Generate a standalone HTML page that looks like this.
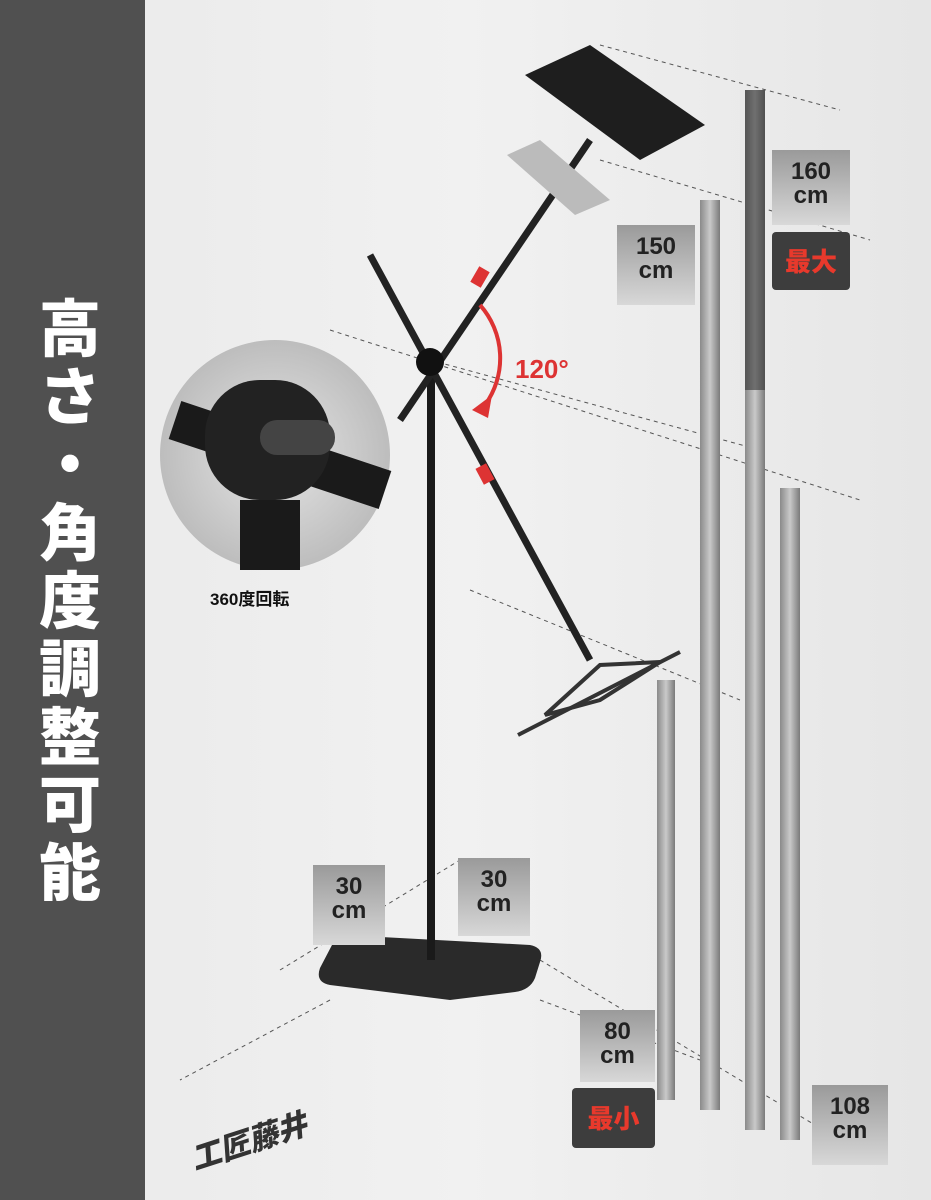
<!DOCTYPE html>
<html><head><meta charset="utf-8"><style>
html,body{margin:0;padding:0}
body{width:931px;height:1200px;overflow:hidden;position:relative;background:linear-gradient(90deg,#e9e9e9,#f1f1f1 50%,#e6e6e6);font-family:"Liberation Sans","Noto Sans CJK JP",sans-serif}
#side{position:absolute;left:0;top:0;width:145px;height:1200px;background:#505050}
#vt{position:absolute;left:25px;top:290px;width:90px;color:#fff;font-weight:900;font-size:62px;text-align:center;font-family:"Noto Sans CJK JP",sans-serif}
#vt div{height:68px;line-height:68px}
.lab{position:absolute;background:linear-gradient(180deg,#9a9a9a,#d8d8d8);color:#222;font-weight:bold;text-align:center;font-size:24px;line-height:24px;padding-top:10px;box-sizing:border-box}
.red{position:absolute;background:#3d3d3d;color:#e8392c;font-weight:900;font-size:26px;text-align:center;font-family:"Noto Sans CJK JP",sans-serif;border-radius:4px}
</style></head><body>
<svg width="931" height="1200" style="position:absolute;left:0;top:0">
<defs>
<linearGradient id="bar" x1="0" x2="1"><stop offset="0" stop-color="#8a8a8a"/><stop offset=".5" stop-color="#c9c9c9"/><stop offset="1" stop-color="#7a7a7a"/></linearGradient>
<radialGradient id="circ"><stop offset="0" stop-color="#e6e6e6"/><stop offset="1" stop-color="#bdbdbd"/></radialGradient>
</defs>
<g stroke="#555" stroke-dasharray="4 4" stroke-width="1" fill="none">
<line x1="600" y1="45" x2="840" y2="110"/><line x1="600" y1="160" x2="870" y2="240"/>
<line x1="330" y1="330" x2="860" y2="500"/><line x1="430" y1="360" x2="760" y2="450"/>
<line x1="470" y1="590" x2="740" y2="700"/><line x1="540" y1="960" x2="840" y2="1140"/>
<line x1="280" y1="970" x2="460" y2="860"/><line x1="330" y1="1000" x2="180" y2="1080"/>
<line x1="540" y1="1000" x2="700" y2="1060"/>
</g>
<rect x="745" y="90" width="20" height="1040" fill="url(#bar)"/>
<rect x="745" y="90" width="20" height="300" fill="#333" opacity=".6"/>
<rect x="700" y="200" width="20" height="910" fill="url(#bar)"/>
<rect x="780" y="488" width="20" height="652" fill="url(#bar)"/>
<rect x="657" y="680" width="18" height="420" fill="url(#bar)"/>
<path d="M345 935 L530 945 Q545 948 540 962 L535 978 Q530 990 515 992 L450 1000 L330 985 Q315 982 320 968 L332 945 Q336 935 345 935 Z" fill="#2a2a2a"/>
<rect x="427" y="360" width="8" height="600" fill="#1a1a1a"/>
<line x1="370" y1="255" x2="590" y2="660" stroke="#222" stroke-width="7"/>
<line x1="400" y1="420" x2="590" y2="140" stroke="#222" stroke-width="7"/>
<circle cx="430" cy="362" r="14" fill="#111"/>
<rect x="474" y="268" width="12" height="18" fill="#d33" transform="rotate(30 480 277)"/>
<rect x="479" y="465" width="12" height="18" fill="#d33" transform="rotate(-28 485 474)"/>
<polygon points="525,75 590,45 705,125 640,160" fill="#1e1e1e"/>
<polygon points="507,155 540,140 610,200 575,215" fill="#bbb"/>
<g stroke="#333" stroke-width="4" fill="none"><line x1="518" y1="735" x2="680" y2="652"/><polygon points="545,715 600,665 660,662 600,700"/></g>
<path d="M480 305 A80 80 0 0 1 485 405" stroke="#d33" stroke-width="4" fill="none"/>
<polygon points="472,410 492,395 488,418" fill="#d33"/>
<circle cx="275" cy="455" r="115" fill="url(#circ)"/>
<line x1="175" y1="420" x2="385" y2="490" stroke="#1a1a1a" stroke-width="40"/>
<rect x="205" y="380" width="125" height="120" rx="55" fill="#222"/>
<rect x="260" y="420" width="75" height="35" rx="17" fill="#444"/>
<rect x="240" y="500" width="60" height="70" fill="#1a1a1a"/>
<text x="515" y="378" font-size="26" font-weight="bold" fill="#d33" font-family="Liberation Sans">120°</text>
<text x="210" y="605" font-size="17" font-weight="bold" fill="#111" font-family="Liberation Sans,Noto Sans CJK JP">360度回転</text>
<text x="195" y="1170" font-size="30" font-weight="900" font-style="italic" fill="#333" font-family="Noto Sans CJK JP" transform="rotate(-18 195 1170)">工匠藤井</text>
</svg>
<div id="side"></div>
<div id="vt"><div>高</div><div>さ</div><div>・</div><div>角</div><div>度</div><div>調</div><div>整</div><div>可</div><div>能</div></div>
<div class="lab" style="left:772px;top:150px;width:78px;height:75px">160<br>cm</div>
<div class="red" style="left:772px;top:232px;width:78px;height:58px;line-height:58px">最大</div>
<div class="lab" style="left:617px;top:225px;width:78px;height:80px">150<br>cm</div>
<div class="lab" style="left:313px;top:865px;width:72px;height:80px">30<br>cm</div>
<div class="lab" style="left:458px;top:858px;width:72px;height:78px">30<br>cm</div>
<div class="lab" style="left:580px;top:1010px;width:75px;height:72px">80<br>cm</div>
<div class="red" style="left:572px;top:1088px;width:83px;height:60px;line-height:60px">最小</div>
<div class="lab" style="left:812px;top:1085px;width:76px;height:80px">108<br>cm</div>
</body></html>
